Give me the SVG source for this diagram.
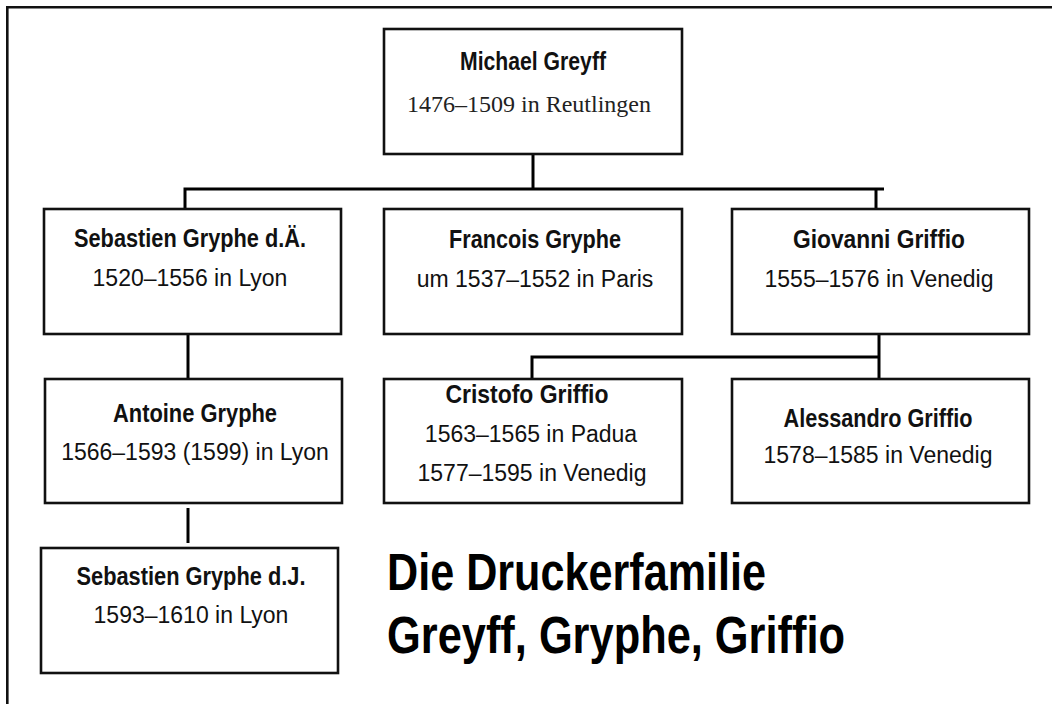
<svg xmlns="http://www.w3.org/2000/svg" width="1052" height="704" viewBox="0 0 1052 704">
<style>
.box{fill:#fff;stroke:#111;stroke-width:2.6}
.con{fill:none;stroke:#000;stroke-width:3}
.frame{fill:none;stroke:#111;stroke-width:2.6}
.nm{font-family:"Liberation Sans",Arial,sans-serif;font-weight:bold;font-size:26px;fill:#111;text-anchor:middle}
.dt{font-family:"Liberation Sans",Arial,sans-serif;font-size:23px;fill:#111;text-anchor:middle}
.sr{font-family:"Liberation Serif","Times New Roman",serif;font-size:24px;fill:#222;text-anchor:middle}
.title{font-family:"Liberation Sans",Arial,sans-serif;font-weight:bold;font-size:52.6px;fill:#000}
</style>
<rect width="1052" height="704" fill="#fff"/>
<path class="frame" d="M7.3 704 V7.3 H1052"/>
<g id="connectors">
<path class="con" d="M533 154 V189"/>
<path class="con" d="M185 209 V189 H884"/>
<path class="con" d="M876 189 V209"/>
<path class="con" d="M188 334 V379"/>
<path class="con" d="M188 508 V543"/>
<path class="con" d="M879 334 V379"/>
<path class="con" d="M532 379 V357 H879"/>
</g>
<g id="michael">
<rect class="box" x="384" y="29" width="298" height="125"/>
<text class="nm" x="533" y="70" textLength="146" lengthAdjust="spacingAndGlyphs">Michael Greyff</text>
<text class="sr" x="529" y="112">1476–1509 in Reutlingen</text>
</g>
<g id="sebastien-ae">
<rect class="box" x="44" y="209" width="297" height="125"/>
<text class="nm" x="190" y="247" textLength="232" lengthAdjust="spacingAndGlyphs">Sebastien Gryphe d.Ä.</text>
<text class="dt" x="190" y="286">1520–1556 in Lyon</text>
</g>
<g id="francois">
<rect class="box" x="384" y="209" width="298" height="125"/>
<text class="nm" x="535" y="248" textLength="172" lengthAdjust="spacingAndGlyphs">Francois Gryphe</text>
<text class="dt" x="535" y="287">um 1537–1552 in Paris</text>
</g>
<g id="giovanni">
<rect class="box" x="732" y="209" width="297" height="125"/>
<text class="nm" x="879" y="248" textLength="172" lengthAdjust="spacingAndGlyphs">Giovanni Griffio</text>
<text class="dt" x="879" y="287">1555–1576 in Venedig</text>
</g>
<g id="antoine">
<rect class="box" x="45" y="379" width="297" height="124"/>
<text class="nm" x="195" y="422" textLength="164" lengthAdjust="spacingAndGlyphs">Antoine Gryphe</text>
<text class="dt" x="195" y="460">1566–1593 (1599) in Lyon</text>
</g>
<g id="cristofo">
<rect class="box" x="384" y="379" width="298" height="124"/>
<text class="nm" x="527" y="403" textLength="163" lengthAdjust="spacingAndGlyphs">Cristofo Griffio</text>
<text class="dt" x="531" y="442">1563–1565 in Padua</text>
<text class="dt" x="532" y="481">1577–1595 in Venedig</text>
</g>
<g id="alessandro">
<rect class="box" x="732" y="379" width="297" height="124"/>
<text class="nm" x="878" y="427" textLength="189" lengthAdjust="spacingAndGlyphs">Alessandro Griffio</text>
<text class="dt" x="878" y="463">1578–1585 in Venedig</text>
</g>
<g id="sebastien-dj">
<rect class="box" x="41" y="548" width="297" height="125"/>
<text class="nm" x="191" y="585" textLength="229" lengthAdjust="spacingAndGlyphs">Sebastien Gryphe d.J.</text>
<text class="dt" x="191" y="623">1593–1610 in Lyon</text>
</g>
<g id="title">
<text class="title" x="387" y="590" textLength="379" lengthAdjust="spacingAndGlyphs">Die Druckerfamilie</text>
<text class="title" x="387" y="653" textLength="458" lengthAdjust="spacingAndGlyphs">Greyff, Gryphe, Griffio</text>
</g>
</svg>
